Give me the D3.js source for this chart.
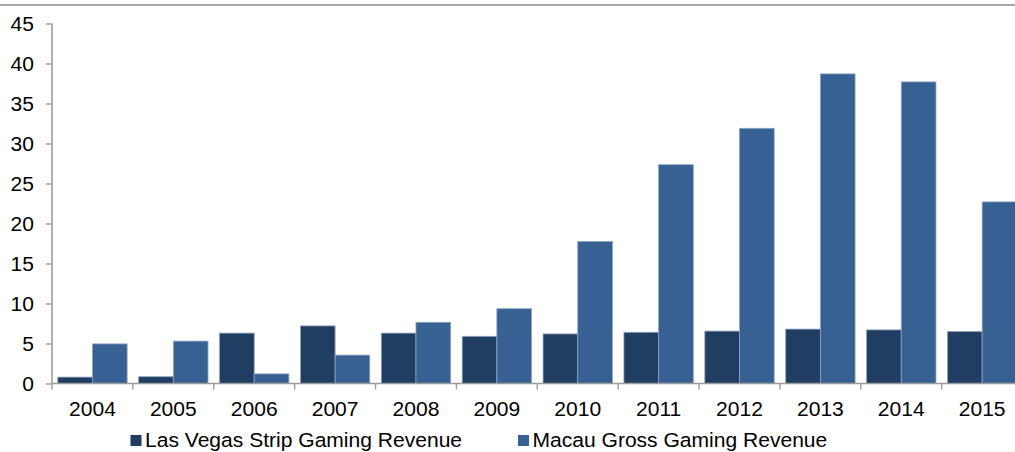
<!DOCTYPE html>
<html>
<head>
<meta charset="utf-8">
<script src="https://cdn.jsdelivr.net/npm/d3@7"></script>
<style>
  html, body { margin: 0; padding: 0; background: #fff; }
  svg { display: block; }
  text { font-family: "Liberation Sans", Arial, sans-serif; fill: #000; }
</style>
</head>
<body>
<svg id="chart" width="1015" height="452"></svg>
<script>
// Gaming revenue, US$ billions
const years = ["2004","2005","2006","2007","2008","2009","2010","2011","2012","2013","2014","2015"];
const lasVegas = [0.8, 0.85, 6.3, 7.2, 6.3, 5.9, 6.2, 6.4, 6.55, 6.8, 6.7, 6.5];
const macau    = [4.95, 5.3, 1.2, 3.55, 7.65, 9.35, 17.75, 27.35, 31.9, 38.7, 37.7, 22.7];
const seriesNames = ["Las Vegas Strip Gaming Revenue", "Macau Gross Gaming Revenue"];
const seriesColors = ["#1f3e61", "#376193"];
const yTicks = [0, 5, 10, 15, 20, 25, 30, 35, 40, 45];

const svg = d3.select("#chart");
const axisColor = "#9c9c9c";
const fs = 19.5;  // label font size
const sx = 1.08;  // horizontal stretch of the lettering

const x0 = d3.scaleBand().domain(years).range([52, 1022.6]).padding(0);
const x1 = d3.scaleBand().domain(seriesNames).range([0, x0.bandwidth()])
  .paddingInner(0).paddingOuter(0.166);
const y = d3.scaleLinear().domain([0, 45]).range([383.5, 23.5]);

// top rule
svg.append("line")
  .attr("x1", 0).attr("x2", 1015).attr("y1", 5).attr("y2", 5)
  .attr("stroke", "#a8a8a8").attr("stroke-width", 2);

// bars
const rows = years.map((yr, i) => ({ year: yr, vals: [lasVegas[i], macau[i]] }));
const groups = svg.append("g").selectAll("g").data(rows).join("g")
  .attr("transform", d => `translate(${x0(d.year)},0)`);
groups.selectAll("rect")
  .data(d => d.vals.map((v, k) => ({ name: seriesNames[k], v, k })))
  .join("rect")
  .attr("x", d => x1(d.name))
  .attr("width", x1.bandwidth())
  .attr("y", d => y(d.v))
  .attr("height", d => y(0) - y(d.v))
  .attr("fill", d => seriesColors[d.k])
  .attr("stroke", "#8fa5c3")
  .attr("stroke-width", 0.8);

// y axis
const yAxis = svg.append("g").attr("transform", "translate(52,0)")
  .call(d3.axisLeft(y).tickValues(yTicks).tickSize(6).tickPadding(0).tickFormat(d3.format("d")));
yAxis.select(".domain").attr("stroke", axisColor).attr("stroke-width", 1.6)
  .attr("d", `M0,${y(45)}V${y(0)}`);
yAxis.selectAll(".tick line").attr("stroke", axisColor).attr("stroke-width", 1.4);
yAxis.selectAll(".tick text")
  .attr("x", null).attr("dy", null)
  .attr("text-anchor", "end")
  .attr("dominant-baseline", "central")
  .attr("font-size", fs)
  .attr("font-family", "Liberation Sans, Arial, sans-serif")
  .attr("fill", "#000")
  .attr("transform", `translate(-18,0) scale(${sx},1)`);

// x axis: baseline with ticks on category boundaries
const xg = svg.append("g");
xg.append("line")
  .attr("x1", 52).attr("x2", 1015).attr("y1", y(0)).attr("y2", y(0))
  .attr("stroke", axisColor).attr("stroke-width", 1.6);
const bounds = years.map(d => x0(d)).concat([x0(years[years.length - 1]) + x0.bandwidth()]);
xg.selectAll("line.tk").data(bounds).join("line").attr("class", "tk")
  .attr("x1", d => d).attr("x2", d => d)
  .attr("y1", y(0)).attr("y2", y(0) + 6)
  .attr("stroke", axisColor).attr("stroke-width", 1.4);
xg.selectAll("text").data(years).join("text")
  .attr("text-anchor", "middle")
  .attr("font-size", fs)
  .attr("transform", d => `translate(${x0(d) + x0.bandwidth() / 2},416) scale(${sx},1)`)
  .text(d => d);

// legend
const legendX = [130.5, 518];
const lg = svg.append("g").selectAll("g").data(seriesNames).join("g")
  .attr("transform", (d, i) => `translate(${legendX[i]},0)`);
lg.append("rect")
  .attr("x", 0).attr("y", 435).attr("width", 11).attr("height", 11)
  .attr("fill", (d, i) => seriesColors[i]);
lg.append("text")
  .attr("font-size", fs)
  .attr("transform", `translate(14.5,446.5) scale(${sx},1)`)
  .text(d => d);
</script>
</body>
</html>
